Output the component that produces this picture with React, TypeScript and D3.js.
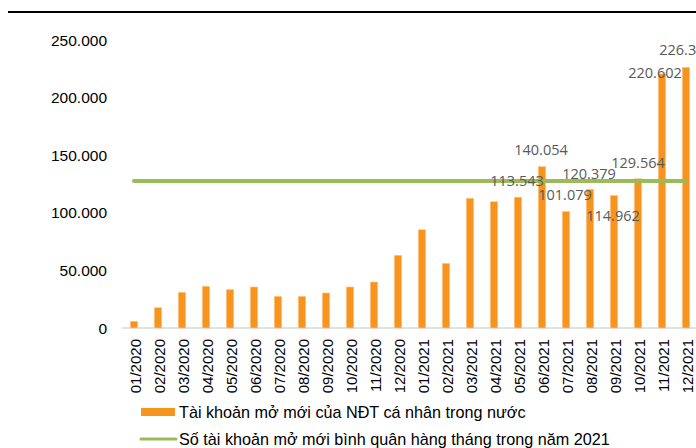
import React from "react";
import * as d3 from "d3";

const months = [
  "01/2020", "02/2020", "03/2020", "04/2020", "05/2020", "06/2020",
  "07/2020", "08/2020", "09/2020", "10/2020", "11/2020", "12/2020",
  "01/2021", "02/2021", "03/2021", "04/2021", "05/2021", "06/2021",
  "07/2021", "08/2021", "09/2021", "10/2021", "11/2021", "12/2021",
];
const newAccounts = [
  5800, 17600, 31000, 36200, 33300, 35600,
  27500, 27500, 30400, 35600, 39900, 63100,
  85300, 56100, 112600, 109600, 113543, 140054,
  101079, 120379, 114962, 129564, 220602, 226310,
];
const avg2021 = 127500;
const yTicks = [0, 50000, 100000, 150000, 200000, 250000];
const labelledMonths = ["05/2021", "06/2021", "07/2021", "08/2021", "09/2021", "10/2021", "11/2021", "12/2021"];
const labelNudges: Record<string, [number, number]> = {
  "05/2021": [-1, -11],
  "06/2021": [-1, -11.5],
  "07/2021": [-1, -11.5],
  "08/2021": [-1, -10.5],
  "09/2021": [-1, 25.5],
  "10/2021": [0, -10.5],
  "11/2021": [-7, 4.5],
  "12/2021": [0, -12],
};
const legendBar = "Tài khoản mở mới của NĐT cá nhân trong nước";
const legendLine = "Số tài khoản mở mới bình quân hàng tháng trong năm 2021";

const W = 696;
const H = 448;
const ORANGE = "#F7941E";
const GREEN = "#9BBB59";

const fmt = (v: number) => d3.format(",")(v).replace(/,/g, ".");

export default function App() {
  const x = d3.scaleBand<string>().domain(months).range([122, 698]).paddingInner(0.69).paddingOuter(0.345);
  const y = d3.scaleLinear().domain([0, 250000]).range([328, 40]);
  const bw = x.bandwidth();
  const cx = (m: string) => (x(m) as number) + bw / 2;
  const font = "'Liberation Sans', Arial, sans-serif";

  return (
    <svg width={W} height={H} style={{ position: "absolute", left: 0, top: 0, background: "#fff" }}>
      <rect width={W} height={H} fill="#fff" />
      <line x1={8} x2={W} y1={12} y2={12} stroke="#000" strokeWidth={2} />
      {yTicks.map((t) => (
        <text key={t} x={107} y={y(t)} dy="0.36em" textAnchor="end" fontFamily={font} fontSize={15.5} fill="#000">
          {t === 0 ? "0" : fmt(t)}
        </text>
      ))}
      <line x1={122} x2={W} y1={y(0)} y2={y(0)} stroke="#D9D9D9" strokeWidth={1.5} />
      {months.map((m, i) => (
        <rect key={m} x={x(m)} y={y(newAccounts[i])} width={bw} height={y(0) - y(newAccounts[i])} fill={ORANGE} stroke="#FBC98F" strokeWidth={0.6} />
      ))}
      <line x1={cx(months[0])} x2={cx(months[months.length - 1])} y1={y(avg2021)} y2={y(avg2021)} stroke={GREEN} strokeWidth={4} strokeLinecap="round" />
      {labelledMonths.map((m) => {
        const i = months.indexOf(m);
        const [dx, dy] = labelNudges[m];
        return (
          <text key={m} x={cx(m) + dx} y={y(newAccounts[i]) + dy} textAnchor="middle" fontFamily="'Open Sans', sans-serif" fontSize={14.5} fill="#595959">
            {fmt(newAccounts[i])}
          </text>
        );
      })}
      {months.map((m) => (
        <text key={m} transform={`translate(${cx(m) + 6.5},339) rotate(-90)`} textAnchor="end" fontFamily={font} fontSize={15} fill="#000">
          {m}
        </text>
      ))}
      <rect x={141} y={408} width={34} height={8} fill={ORANGE} />
      <text x={179} y={417.5} fontFamily={font} fontSize={16.2} fill="#000">{legendBar}</text>
      <line x1={141} x2={176} y1={439} y2={439} stroke={GREEN} strokeWidth={3} strokeLinecap="round" />
      <text x={179} y={444.5} fontFamily={font} fontSize={16.2} fill="#000">{legendLine}</text>
    </svg>
  );
}
